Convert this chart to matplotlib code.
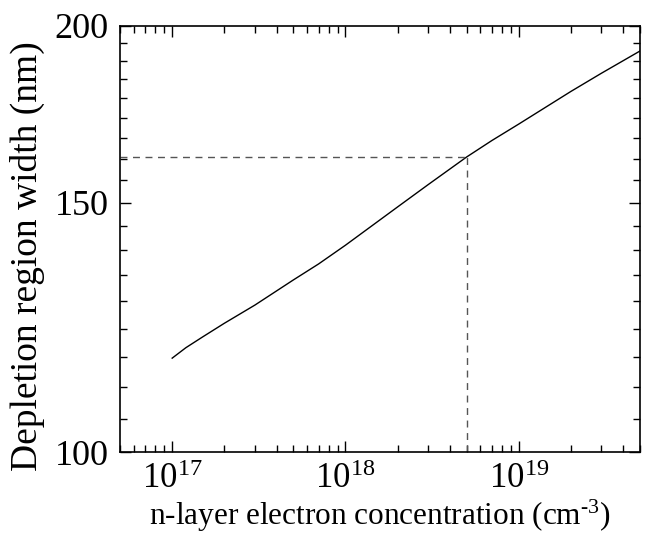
import numpy as np
import matplotlib
matplotlib.use("Agg")
import matplotlib.pyplot as plt
from matplotlib.ticker import FixedLocator, LogLocator, NullFormatter, LogFormatterSciNotation

# Depletion width vs n-layer electron concentration
concentration = [1e17, 1.2e17, 1.5e17, 2e17, 3e17, 5e17, 7e17, 1e18,
                 2e18, 3e18, 5e18, 7e18, 1e19, 2e19, 3e19, 5e19]
width_nm = [116.5, 118.5, 120.6, 123.3, 127.0, 132.3, 135.8, 140.0,
            149.0, 154.5, 161.6, 166.0, 170.5, 179.8, 185.2, 192.0]

# Marked operating point
mark_conc = 5e18
mark_width = 161.6

y_major = [100, 150, 200]
x_range = (5e16, 5e19)

plt.rcParams['font.family'] = ['Liberation Serif', 'DejaVu Serif']
plt.rcParams['mathtext.fontset'] = 'custom'
plt.rcParams['mathtext.rm'] = 'Liberation Serif'
plt.rcParams['mathtext.it'] = 'Liberation Serif:italic'

fig = plt.figure(figsize=(6.47, 5.39), dpi=100)
ax = fig.add_axes([0.1855, 0.1614, 0.989 - 0.1855, 0.9518 - 0.1614])

ax.plot(concentration, width_nm, color='black', lw=1.0)
ax.plot([x_range[0], mark_conc], [mark_width, mark_width], color='#555555',
        lw=1.0, dashes=(5, 4))
ax.plot([mark_conc, mark_conc], [y_major[0], mark_width], color='#555555',
        lw=1.0, dashes=(5, 4))

ax.set_xscale('log')
ax.set_yscale('log')
ax.set_xlim(*x_range)
ax.set_ylim(y_major[0], y_major[-1])

ax.xaxis.set_major_locator(LogLocator(base=10, numticks=10))
ax.xaxis.set_minor_locator(LogLocator(base=10, subs=np.arange(2, 10), numticks=20))
ax.xaxis.set_major_formatter(LogFormatterSciNotation())
ax.xaxis.set_minor_formatter(NullFormatter())

ax.yaxis.set_major_locator(FixedLocator(y_major))
ax.set_yticklabels([str(v) for v in y_major])
minor_y = np.concatenate([np.linspace(y_major[i], y_major[i + 1], 10)[1:-1]
                          for i in range(len(y_major) - 1)])
ax.yaxis.set_minor_locator(FixedLocator(minor_y))
ax.yaxis.set_minor_formatter(NullFormatter())

ax.tick_params(which='both', direction='in', top=True, right=True, width=1.0)
ax.tick_params(axis='y', labelsize=26, pad=8)
ax.tick_params(axis='x', labelsize=25, pad=8)
ax.tick_params(which='major', length=8)
ax.tick_params(which='minor', length=5)
for s in ax.spines.values():
    s.set_linewidth(1.2)

ax.set_xlabel('n-layer electron concentration (cm$^{\\text{-}3}$)', fontsize=22.5, labelpad=1)
ax.set_ylabel('Depletion region width (nm)', fontsize=27)
ax.yaxis.set_label_coords(-0.145, 0.46)

fig.savefig('out.png', dpi=100)
